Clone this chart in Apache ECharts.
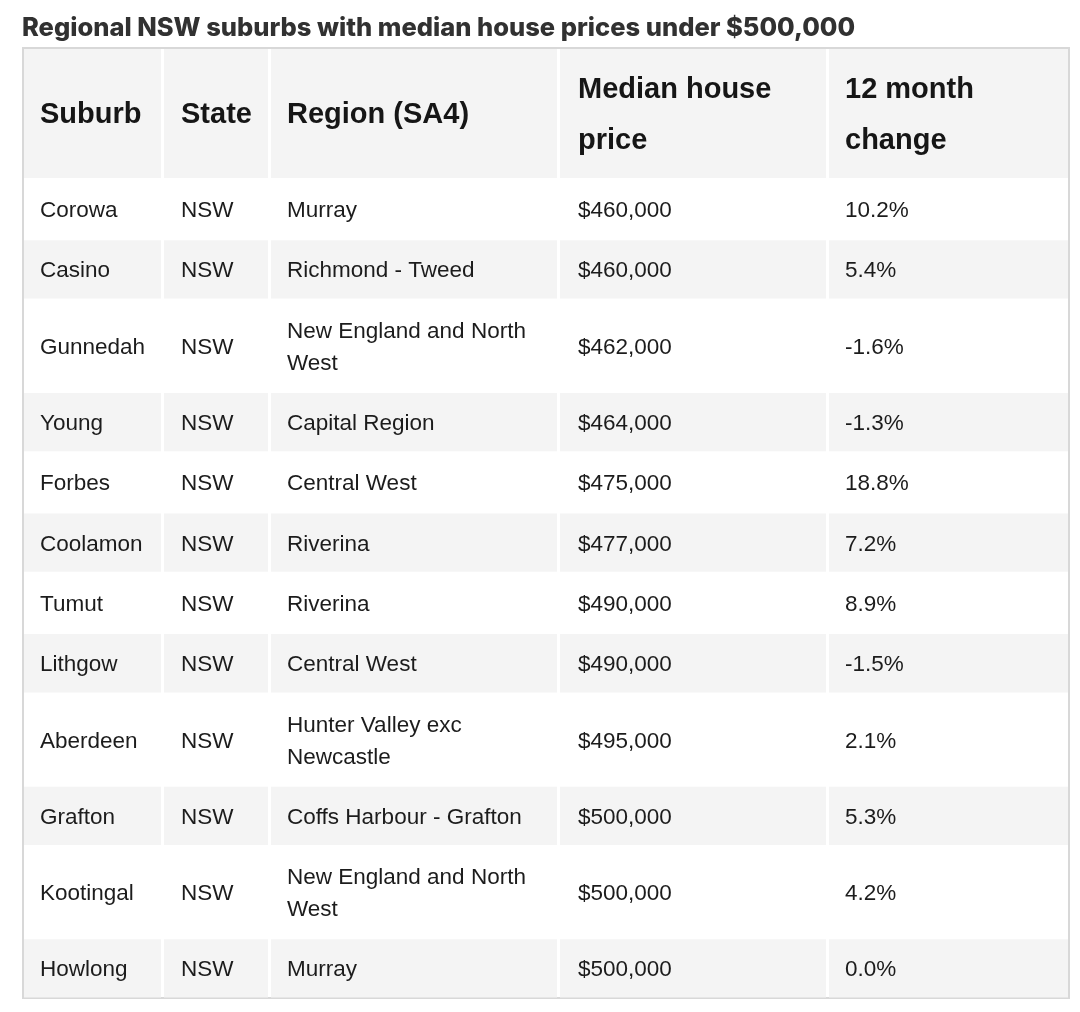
<!DOCTYPE html>
<html>
<head>
<meta charset="utf-8">
<script src="https://cdn.jsdelivr.net/npm/echarts@6/dist/echarts.min.js"></script>
<style>html,body{margin:0;padding:0;background:#fff;}#chart{width:1080px;height:1012px;}</style>
</head>
<body>
<div id="chart"></div>
<script>
// ---- data ----
const headers = ['Suburb', 'State', 'Region (SA4)', 'Median house price', '12 month change'];
const suburbs = ['Corowa', 'Casino', 'Gunnedah', 'Young', 'Forbes', 'Coolamon', 'Tumut', 'Lithgow', 'Aberdeen', 'Grafton', 'Kootingal', 'Howlong'];
const states = ['NSW', 'NSW', 'NSW', 'NSW', 'NSW', 'NSW', 'NSW', 'NSW', 'NSW', 'NSW', 'NSW', 'NSW'];
const regions = ['Murray', 'Richmond - Tweed', 'New England and North West', 'Capital Region', 'Central West', 'Riverina', 'Riverina', 'Central West', 'Hunter Valley exc Newcastle', 'Coffs Harbour - Grafton', 'New England and North West', 'Murray'];
const medianPrices = [460000, 460000, 462000, 464000, 475000, 477000, 490000, 490000, 495000, 500000, 500000, 500000];
const changes = [10.2, 5.4, -1.6, -1.3, 18.8, 7.2, 8.9, -1.5, 2.1, 5.3, 4.2, 0.0];

// ---- layout (styles) ----
const colWidths = [137, 104, 286, 266, 239];
const colPad = [16, 17, 16, 18, 16];
const colGap = 3, rowGap = 2;
const FAMILY = '"Liberation Sans", Arial, Helvetica, sans-serif';
const headerSize = 29, bodySize = 22.5;
const headerFont = 'bold ' + headerSize + 'px ' + FAMILY;
const bodyFont = bodySize + 'px ' + FAMILY;
const headerLineH = 51, bodyLineH = 32;
const headerPad = 13.5, bodyPad = 13.15;
const textShiftY = 1.8;
const W = 1046, H = 950;

const ctx = document.createElement('canvas').getContext('2d');
function wrap(text, font, maxW) {
  ctx.font = font;
  const words = String(text).split(' ');
  const lines = [];
  let cur = '';
  words.forEach(w => {
    const t = cur ? cur + ' ' + w : w;
    if (cur && ctx.measureText(t).width > maxW) { lines.push(cur); cur = w; }
    else cur = t;
  });
  if (cur) lines.push(cur);
  return lines;
}

const fmtPrice = v => '$' + v.toLocaleString('en-US');
const fmtChange = v => v.toFixed(1) + '%';

const rowsText = [headers].concat(suburbs.map((s, i) => [s, states[i], regions[i], fmtPrice(medianPrices[i]), fmtChange(changes[i])]));

const colStart = [];
let cx = 1;
colWidths.forEach(w => { colStart.push(cx); cx += w + colGap; });

const cellLines = rowsText.map((row, r) => row.map((t, c) => wrap(t, r === 0 ? headerFont : bodyFont, colWidths[c] - 32)));
const rowHeights = cellLines.map((row, r) => {
  const n = Math.max(...row.map(l => l.length));
  return r === 0 ? n * headerLineH + 2 * headerPad : n * bodyLineH + 2 * bodyPad;
});
const rowStart = [];
let cy = 1;
rowHeights.forEach(h => { rowStart.push(cy); cy += h + rowGap; });

const cellData = [];
rowsText.forEach((row, r) => row.forEach((t, c) => cellData.push([c, r])));

const chart = echarts.init(document.getElementById('chart'), null, { renderer: 'canvas' });
chart.setOption({
  animation: false,
  backgroundColor: '#ffffff',
  title: {
    text: 'Regional NSW suburbs with median house prices under $500,000',
    left: 22, top: 15, padding: 0,
    textStyle: { fontFamily: 'Inter', fontWeight: 800, fontSize: 25.5, color: '#313131' }
  },
  grid: { left: 23, top: 48, width: W, height: H, show: true, backgroundColor: '#ffffff', borderColor: '#d8d8d8', borderWidth: 2 },
  xAxis: { type: 'value', min: 0, max: W, show: false },
  yAxis: { type: 'value', min: 0, max: H, inverse: true, show: false },
  series: [{
    type: 'custom',
    data: cellData,
    clip: false,
    renderItem: function (params, api) {
      const c = api.value(0), r = api.value(1);
      const p0 = api.coord([colStart[c], rowStart[r]]);
      const p1 = api.coord([colStart[c] + colWidths[c], rowStart[r] + rowHeights[r]]);
      const fill = (r === 0 || r % 2 === 0) ? '#f4f4f4' : '#ffffff';
      return {
        type: 'group',
        children: [
          { type: 'rect', shape: { x: p0[0], y: p0[1], width: p1[0] - p0[0], height: p1[1] - p0[1] }, style: { fill: fill } },
          { type: 'text', style: {
              text: cellLines[r][c].join('\n'),
              x: p0[0] + colPad[c], y: (p0[1] + p1[1]) / 2 + textShiftY,
              fontFamily: FAMILY,
              fontSize: r === 0 ? headerSize : bodySize,
              fontWeight: r === 0 ? 'bold' : 'normal',
              lineHeight: r === 0 ? headerLineH : bodyLineH,
              fill: r === 0 ? '#161616' : '#1c1c1c',
              align: 'left', verticalAlign: 'middle'
          } }
        ]
      };
    }
  }]
});
</script>
</body>
</html>
